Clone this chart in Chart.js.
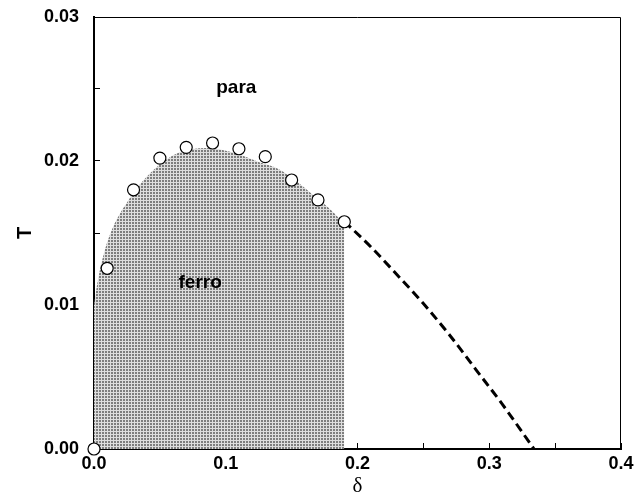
<!DOCTYPE html>
<html>
<head>
<meta charset="utf-8">
<script src="https://cdn.jsdelivr.net/npm/chart.js@4.4.1/dist/chart.umd.min.js"></script>
<style>
  html, body { margin: 0; padding: 0; background: #fff; }
  canvas { display: block; }
</style>
</head>
<body>
<canvas id="phaseChart" width="634" height="500"></canvas>
<script>
// measured transition points (open circles)
const pointDelta = [0.0, 0.01, 0.03, 0.05, 0.07, 0.09, 0.11, 0.13, 0.15, 0.17, 0.19];
const pointT = [0.0, 0.01255, 0.0180, 0.0202, 0.02095, 0.02125, 0.02085, 0.0203, 0.01868, 0.0173, 0.01578];

// dashed extrapolation
const dashDelta = [0.19, 0.21, 0.23, 0.25, 0.27, 0.29, 0.31, 0.334];
const dashT = [0.0158, 0.01405, 0.0121, 0.0101, 0.0079, 0.0055, 0.0031, 0.0];

// upper edge of the shaded ferro region
const shadeDelta = [0.0, 0.003, 0.0106, 0.027, 0.04, 0.052, 0.065, 0.085, 0.105, 0.126, 0.141, 0.167, 0.182, 0.19];
const shadeT = [0.0100, 0.01174, 0.01451, 0.0174, 0.0189, 0.0199, 0.0206, 0.0209, 0.0206, 0.0199, 0.0194, 0.0176, 0.0164, 0.0156];

// region labels
const regionLabels = ['para', 'ferro'];
const labelDelta = [0.108, 0.0806];
const labelT = [0.02507, 0.01153];

const xTicks = [0.0, 0.1, 0.2, 0.3, 0.4];
const yTicks = [0.00, 0.01, 0.02, 0.03];

function toXY(xs, ys) {
    return xs.map((x, i) => ({ x: x, y: ys[i] }));
}

// halftone-like dotted grey used for the ferro area
function makePattern() {
    const c = document.createElement('canvas');
    c.width = 3;
    c.height = 3;
    const g = c.getContext('2d');
    g.fillStyle = '#dedede';
    g.fillRect(0, 0, 3, 3);
    g.fillStyle = '#7e7e7e';
    g.fillRect(0, 0, 2, 2);
    return g.createPattern(c, 'repeat');
}

// ticks every half step, labels only on the main ones
function halfSteps(list) {
    const t = [];
    for (let i = 0; i < list.length; i++) {
        t.push({ value: list[i] });
        if (i < list.length - 1) t.push({ value: (list[i] + list[i + 1]) / 2 });
    }
    return t;
}

const frameAndLabels = {
    id: 'frameAndLabels',
    afterDraw(chart) {
        const ctx = chart.ctx;
        const a = chart.chartArea;
        const xs = chart.scales.x, ys = chart.scales.y;
        ctx.save();
        // thin top / right frame
        ctx.strokeStyle = '#000';
        ctx.lineWidth = 1;
        ctx.beginPath();
        ctx.moveTo(a.left, a.top + 0.5);
        ctx.lineTo(a.right - 0.5, a.top + 0.5);
        ctx.lineTo(a.right - 0.5, a.bottom);
        ctx.stroke();
        // region names
        ctx.fillStyle = '#000';
        ctx.font = 'bold 19px "Liberation Sans", Arial, sans-serif';
        ctx.textAlign = 'center';
        ctx.textBaseline = 'middle';
        regionLabels.forEach((txt, i) => {
            ctx.fillText(txt, xs.getPixelForValue(labelDelta[i]), ys.getPixelForValue(labelT[i]));
        });
        ctx.restore();
    }
};

const ctx = document.getElementById('phaseChart').getContext('2d');

new Chart(ctx, {
    type: 'scatter',
    data: {
        datasets: [
            {
                label: 'points',
                data: toXY(pointDelta, pointT),
                showLine: false,
                pointRadius: 6,
                pointBackgroundColor: '#fff',
                pointBorderColor: '#000',
                pointBorderWidth: 1.2,
                clip: false
            },
            {
                label: 'extrapolation',
                data: toXY(dashDelta, dashT),
                showLine: true,
                borderColor: '#000',
                borderWidth: 3,
                borderDash: [9, 5],
                pointRadius: 0,
                cubicInterpolationMode: 'monotone',
                fill: false
            },
            {
                label: 'ferro',
                data: toXY(shadeDelta, shadeT),
                showLine: true,
                borderWidth: 0,
                borderColor: 'rgba(0,0,0,0)',
                backgroundColor: makePattern(),
                pointRadius: 0,
                cubicInterpolationMode: 'monotone',
                fill: 'origin'
            }
        ]
    },
    options: {
        responsive: false,
        animation: false,
        layout: { padding: { left: 0, top: 17, right: 13, bottom: 0 } },
        plugins: {
            legend: { display: false },
            tooltip: { enabled: false }
        },
        scales: {
            x: {
                type: 'linear',
                min: 0,
                max: 0.4,
                afterFit: s => {
                    s.height = 51;
                    s.paddingLeft = 0;
                    s.paddingRight = 0;
                },
                afterBuildTicks: s => { s.ticks = halfSteps(xTicks); },
                border: { display: true, color: '#000', width: 2 },
                grid: { drawOnChartArea: false, drawTicks: true, tickLength: -6, color: '#000', lineWidth: 1 },
                ticks: {
                    color: '#000',
                    padding: 10,
                    maxRotation: 0,
                    autoSkip: false,
                    font: { family: '"Liberation Sans", Arial, sans-serif', size: 18, weight: 'bold' },
                    callback: v => xTicks.some(t => Math.abs(t - v) < 1e-9) ? v.toFixed(1) : ''
                },
                title: {
                    display: true,
                    text: 'δ',
                    color: '#000',
                    font: { family: '"Liberation Serif", "Times New Roman", serif', size: 21 },
                    padding: { top: 0, bottom: 1 }
                }
            },
            y: {
                type: 'linear',
                min: 0,
                max: 0.03,
                afterFit: s => {
                    s.width = 94;
                    s.paddingTop = 0;
                    s.paddingBottom = 0;
                },
                afterBuildTicks: s => { s.ticks = halfSteps(yTicks); },
                border: { display: true, color: '#000', width: 2 },
                grid: { drawOnChartArea: false, drawTicks: true, tickLength: -6, color: '#000', lineWidth: 1 },
                ticks: {
                    color: '#000',
                    padding: 21,
                    autoSkip: false,
                    font: { family: '"Liberation Sans", Arial, sans-serif', size: 18, weight: 'bold' },
                    callback: v => yTicks.some(t => Math.abs(t - v) < 1e-9) ? v.toFixed(2) : ''
                },
                title: {
                    display: true,
                    text: 'T',
                    color: '#000',
                    font: { family: '"Liberation Sans", Arial, sans-serif', size: 20, weight: 'bold' },
                    padding: { top: 13, bottom: 0 }
                }
            }
        }
    },
    plugins: [frameAndLabels]
});
</script>
</body>
</html>
